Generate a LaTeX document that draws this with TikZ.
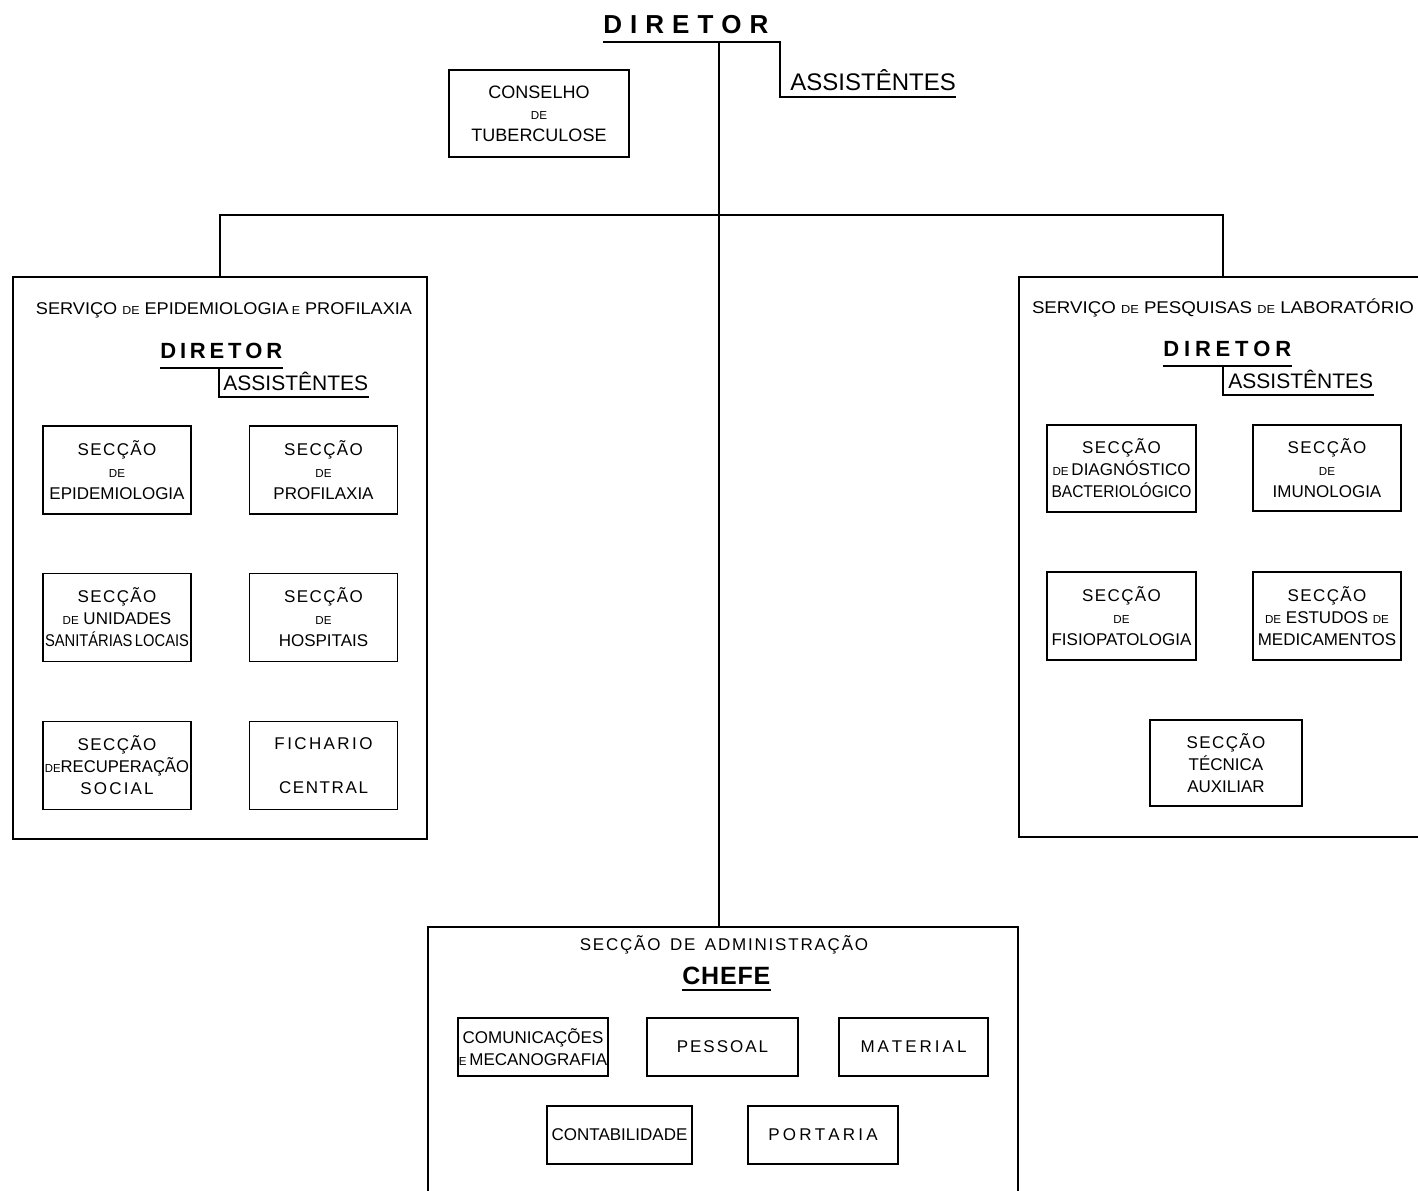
\documentclass[tikz,border=0pt]{standalone}
\usepackage{fontspec}
\setmainfont{Liberation Sans}
\usepackage{graphicx}
\makeatletter
% letter-spaced word: \spaced{<gap>}{<word>}
\def\spaced#1#2{\def\spc@sep{\kern#1}\spc@loop#2\spc@end}
\def\spc@end{}
\def\spc@loop#1{#1\@ifnextchar\spc@end{\@gobble}{\spc@sep\spc@loop}}
\makeatother
\newcommand\sm[1]{{\fontsize{5.8}{6}\selectfont #1}}
\newcommand\fitto[2]{\resizebox{#1}{\height}{#2}}
\tikzset{
  unit/.style={draw, line width=0.85pt, inner sep=0pt, align=center,
    font=\fontsize{8.5}{11}\selectfont},
  frame/.style={draw, line width=0.85pt, inner sep=0pt},
  link/.style={line width=1pt},
  lbl/.style={inner sep=0pt, anchor=base west},
  head/.style={inner sep=0pt, font=\fontsize{8.5}{9}\selectfont},
}
\begin{document}
\begin{tikzpicture}[x=0.5pt, y=-0.5pt]
\useasboundingbox (0,0) rectangle (1418,1190);

% ---- top level ----
\node[lbl, font=\bfseries\fontsize{13}{13}\selectfont] (dir) at (603,33) {\spaced{4pt}{DIRETOR}};
\node[lbl, font=\fontsize{12}{12}\selectfont] (ass) at (790,90) {ASSISTÊNTES};
\coordinate (top) at (719,42);
\coordinate (bar) at (719,215);
\draw[link] ([yshift=-4.5pt]dir.base west) -| ([xshift=-5pt,yshift=-3.5pt]ass.base west)
  -- ([yshift=-3.5pt]ass.base east);

\node[unit, minimum width=90pt, minimum height=43.5pt, font=\fontsize{9}{10.8}\selectfont]
  (cons) at (539,113.5) {CONSELHO\\ \sm{DE}\\ TUBERCULOSE};

% ---- main frames ----
\node[frame, minimum width=207pt, minimum height=281pt] (epi) at (220,558) {};
\node[frame, minimum width=204pt, minimum height=280pt] (lab) at (1223,557) {};
\node[frame, minimum width=295pt, minimum height=141.5pt] (adm) at (723,1068.5) {};

\draw[link] (top) -- (top |- adm.north);
\draw[link] (epi.north) |- (bar) -| (lab.north);

% ---- Servico de Epidemiologia e Profilaxia ----
\node[head] (etit) at (224,310)
  {\fitto{188pt}{SERVIÇO \sm{DE} EPIDEMIOLOGIA\,\sm{E} PROFILAXIA}};
\node[lbl, font=\bfseries\fontsize{11}{11}\selectfont] (edir) at (160,358) {\spaced{1.9pt}{DIRETOR}};
\node[lbl, font=\fontsize{10.5}{10.5}\selectfont] (eass) at (223,390) {ASSISTÊNTES};
\draw[link] ([yshift=-5pt]edir.base west) -- ([yshift=-5pt]edir.base east);
\draw[link] ([xshift=-2pt,yshift=-5pt]edir.base west -| eass.base west) |- ([yshift=-3.5pt]eass.base east);

\node[unit, minimum width=74pt, minimum height=44pt] (sepi) at (117,470)
  {\spaced{0.7pt}{SECÇÃO}\\ \sm{DE}\\ EPIDEMIOLOGIA};
\node[unit, minimum width=74pt, minimum height=44pt] (sprof) at (323.5,470)
  {\spaced{0.7pt}{SECÇÃO}\\ \sm{DE}\\ PROFILAXIA};
\node[unit, minimum width=74pt, minimum height=44pt] (suni) at (117,617.5)
  {\spaced{0.7pt}{SECÇÃO}\\ \sm{DE} UNIDADES\\ \fitto{72pt}{SANITÁRIAS\,LOCAIS}};
\node[unit, minimum width=74pt, minimum height=44pt] (shosp) at (323.5,617.5)
  {\spaced{0.7pt}{SECÇÃO}\\ \sm{DE}\\ HOSPITAIS};
\node[unit, minimum width=74pt, minimum height=44pt] (srec) at (117,765.5)
  {\spaced{0.7pt}{SECÇÃO}\\ \fitto{72pt}{\sm{DE}RECUPERAÇÃO}\\ \spaced{1.1pt}{SOCIAL}};
\node[unit, minimum width=74pt, minimum height=44pt] (fich) at (323.5,765.5)
  {\spaced{1.2pt}{FICHARIO}\\[11pt] \spaced{0.8pt}{CENTRAL}};

% ---- Servico de Pesquisas de Laboratorio ----
\node[head] (ltit) at (1223,308)
  {\fitto{191pt}{SERVIÇO \sm{DE} PESQUISAS \sm{DE} LABORATÓRIO}};
\node[lbl, font=\bfseries\fontsize{11}{11}\selectfont] (ldir) at (1163,356) {\spaced{2.4pt}{DIRETOR}};
\node[lbl, font=\fontsize{10.5}{10.5}\selectfont] (lass) at (1228,388) {ASSISTÊNTES};
\draw[link] ([yshift=-5pt]ldir.base west) -- ([yshift=-5pt]ldir.base east);
\draw[link] ([xshift=-2.5pt,yshift=-5pt]ldir.base west -| lass.base west) |- ([yshift=-3.5pt]lass.base east);

\node[unit, minimum width=74.5pt, minimum height=43.5pt] (sdiag) at (1121.5,468.5)
  {\spaced{0.7pt}{SECÇÃO}\\ \sm{DE}\,DIAGNÓSTICO\\ \fitto{70pt}{BACTERIOLÓGICO}};
\node[unit, minimum width=74pt, minimum height=43pt] (simun) at (1327,468)
  {\spaced{0.7pt}{SECÇÃO}\\ \sm{DE}\\ IMUNOLOGIA};
\node[unit, minimum width=74.5pt, minimum height=44pt] (sfis) at (1121.5,616)
  {\spaced{0.7pt}{SECÇÃO}\\ \sm{DE}\\ FISIOPATOLOGIA};
\node[unit, minimum width=74pt, minimum height=44pt] (smed) at (1327,616)
  {\spaced{0.7pt}{SECÇÃO}\\ \sm{DE} ESTUDOS \sm{DE}\\ MEDICAMENTOS};
\node[unit, minimum width=76pt, minimum height=43pt] (stec) at (1226,763)
  {\spaced{0.7pt}{SECÇÃO}\\ TÉCNICA\\ AUXILIAR};

% ---- Seccao de Administracao ----
\node[head] (atit) at (724,945)
  {\spaced{0.9pt}{SECÇÃO}\ \ \spaced{0.9pt}{DE}\ \ \spaced{0.9pt}{ADMINISTRAÇÃO}};
\node[lbl, font=\bfseries\fontsize{12.5}{12.5}\selectfont] (chefe) at (682,984) {\spaced{0.4pt}{CHEFE}};
\draw[link] ([yshift=-3pt]chefe.base west) -- ([yshift=-3pt]chefe.base east);

\node[unit, minimum width=75pt, minimum height=29pt] (com) at (533,1047)
  {COMUNICAÇÕES\\ \sm{E}\,MECANOGRAFIA};
\node[unit, minimum width=75.5pt, minimum height=29pt] (pess) at (722.5,1047)
  {\spaced{1pt}{PESSOAL}};
\node[unit, minimum width=74.5pt, minimum height=29pt] (mat) at (913.5,1047)
  {\spaced{1.5pt}{MATERIAL}};
\node[unit, minimum width=72.5pt, minimum height=29pt] (cont) at (619.5,1135)
  {CONTABILIDADE};
\node[unit, minimum width=75pt, minimum height=29pt] (port) at (823,1135)
  {\spaced{1.6pt}{PORTARIA}};
\end{tikzpicture}
\end{document}
